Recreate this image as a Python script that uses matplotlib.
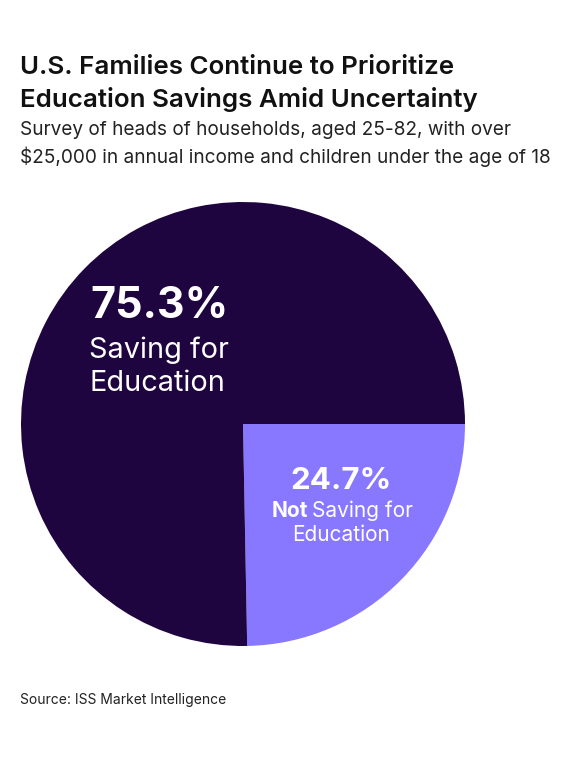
import matplotlib.pyplot as plt

shares = [24.7, 75.3]
labels = ["Not Saving for Education", "Saving for Education"]
colors = ["#8878ff", "#1e0540"]

W, H = 576, 768
fig = plt.figure(figsize=(W / 100, H / 100), dpi=100)
plt.rcParams['font.family'] = ['Inter', 'DejaVu Sans']


def fx(px):
    return px / W


def fy(py):
    return 1 - py / H


# pie centred near (243, 424), radius ~222 px
cx, cy, r = 243, 424, 222
ax = fig.add_axes([fx(cx - r), fy(cy + r), 2 * r / W, 2 * r / H])
ax.pie(shares, colors=colors, startangle=0, counterclock=False,
       wedgeprops=dict(linewidth=0))
ax.set_aspect('equal')
ax.set_xlim(-1, 1)
ax.set_ylim(-1, 1)
ax.axis('off')

fig.text(fx(20), fy(67), "U.S. Families Continue to Prioritize", fontsize=18.7,
         fontweight='semibold', va='center', color='#111111')
fig.text(fx(20), fy(99), "Education Savings Amid Uncertainty", fontsize=18.7,
         fontweight='semibold', va='center', color='#111111')
fig.text(fx(20), fy(130), "Survey of heads of households, aged 25-82, with over",
         fontsize=13.7, va='center', color='#222222')
fig.text(fx(20), fy(157), "$25,000 in annual income and children under the age of 18",
         fontsize=13.7, va='center', color='#222222')

# big slice label
fig.text(fx(90), fy(307), f"{shares[1]}%", fontsize=31, fontweight='bold',
         color='white', va='center')
fig.text(fx(89), fy(350), "Saving for", fontsize=20.8, color='white', va='center')
fig.text(fx(89), fy(383), "Education", fontsize=20.8, color='white', va='center')

# small slice label
fig.text(fx(341), fy(481), f"{shares[0]}%", fontsize=22.5, fontweight='bold',
         color='white', va='center', ha='center')
fig.text(fx(308), fy(511), "Not", fontsize=15, fontweight='bold', color='white',
         va='center', ha='right')
fig.text(fx(312), fy(511), "Saving for", fontsize=15, color='white', va='center',
         ha='left')
fig.text(fx(341), fy(535), "Education", fontsize=15, color='white', va='center',
         ha='center')

fig.text(fx(20), fy(700), "Source: ISS Market Intelligence", fontsize=10,
         va='center', color='#222222')

fig.savefig("out.png", dpi=100)
